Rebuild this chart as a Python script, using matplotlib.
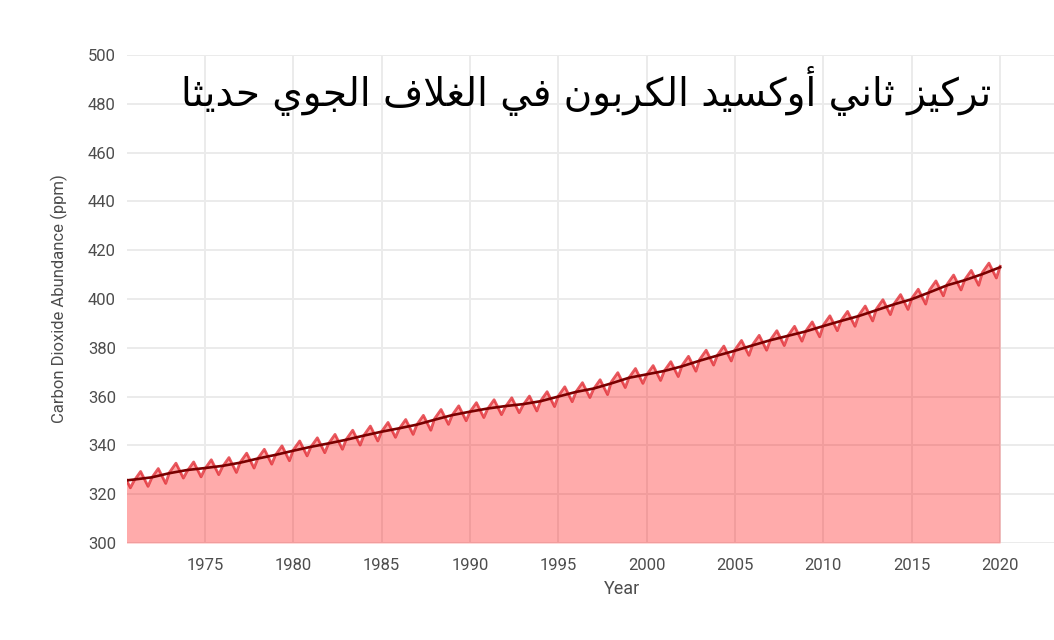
import numpy as np
import matplotlib
matplotlib.use('Agg')
import matplotlib.pyplot as plt

# Mauna Loa CO2 (ppm)
years = list(range(1970, 2020))
co2_jan = [324.9, 325.5, 326.7, 328.9, 329.4, 330.3, 331.2, 333.0, 334.6, 336.0,
           338.0, 339.3, 340.7, 342.4, 344.1, 345.6, 346.8, 348.5, 350.9, 352.4,
           353.7, 354.9, 355.7, 356.4, 358.2, 360.2, 361.9, 363.1, 366.0, 367.7,
           368.9, 370.5, 372.7, 375.2, 376.9, 379.2, 381.3, 383.2, 385.0, 386.8,
           389.3, 391.1, 393.3, 395.9, 398.0, 400.2, 403.6, 406.0, 407.9, 410.9]
co2_may = [328.7, 329.3, 330.5, 332.7, 333.2, 334.1, 335.0, 336.8, 338.4, 339.8,
           341.8, 343.1, 344.5, 346.2, 347.9, 349.4, 350.6, 352.3, 354.7, 356.2,
           357.5, 358.7, 359.5, 360.2, 362.0, 364.0, 365.7, 366.9, 369.8, 371.5,
           372.7, 374.3, 376.5, 379.0, 380.7, 383.0, 385.1, 387.0, 388.8, 390.6,
           393.1, 394.9, 397.1, 399.7, 401.8, 404.0, 407.4, 409.8, 411.7, 414.7]
co2_oct = [322.6, 323.2, 324.4, 326.6, 327.1, 328.0, 328.9, 330.7, 332.3, 333.7,
           335.7, 337.0, 338.4, 340.1, 341.8, 343.3, 344.5, 346.2, 348.6, 350.1,
           351.4, 352.6, 353.4, 354.1, 355.9, 357.9, 359.6, 360.8, 363.7, 365.4,
           366.6, 368.2, 370.4, 372.9, 374.6, 376.9, 379.0, 380.9, 382.7, 384.5,
           387.0, 388.8, 391.0, 393.6, 395.7, 397.9, 401.3, 403.7, 405.6, 408.6]
co2_jan_2020 = 413.4

# deseasonalised trend at 1 January, 1970..2020
trend_years = list(range(1970, 2021))
trend = [325.2, 326.0, 326.9, 328.6, 329.9, 330.7, 331.6, 332.9, 334.6, 336.1,
         337.8, 339.4, 340.8, 342.3, 344.0, 345.6, 347.0, 348.5, 350.5, 352.4,
         353.8, 355.1, 356.1, 356.9, 358.1, 360.0, 361.9, 363.3, 365.4, 367.7,
         369.1, 370.5, 372.4, 374.7, 376.8, 378.8, 381.0, 383.1, 384.9, 386.7,
         388.9, 391.0, 393.0, 395.4, 397.8, 399.9, 402.7, 405.6, 407.7, 410.2,
         413.0]

# Arabic title, pre-shaped with presentation forms (logical order)
title_words = [
    '\uFE97\uFEAE\uFEDB\uFEF4\uFEB0',          # تركيز
    '\uFE9B\uFE8E\uFEE7\uFEF2',                # ثاني
    '\uFE83\uFEED\uFEDB\uFEB4\uFEF4\uFEAA',    # أوكسيد
    '\uFE8D\uFEDF\uFEDC\uFEAE\uFE91\uFEEE\uFEE5',  # الكربون
    '\uFED3\uFEF2',                            # في
    '\uFE8D\uFEDF\uFED0\uFEFC\uFED1',          # الغلاف
    '\uFE8D\uFEDF\uFEA0\uFEEE\uFEF1',          # الجوي
    '\uFEA3\uFEAA\uFEF3\uFE9C\uFE8E',          # حديثا
]
title_text = ''.join(reversed(' '.join(title_words)))

# monthly-ish series: Jan, May, Oct of each year
t = []
v = []
for i, y in enumerate(years):
    t += [y + 0.0, y + 0.37, y + 0.79]
    v += [co2_jan[i], co2_may[i], co2_oct[i]]
t.append(2020.0)
v.append(co2_jan_2020)
t = np.array(t)
v = np.array(v)

plt.rcParams['font.family'] = ['Roboto', 'DejaVu Sans']

fig = plt.figure(figsize=(10.54, 6.4), dpi=100)
ax = fig.add_axes([0.1205, 0.1516, 0.8795, 0.7625])

ax.fill_between(t, 300, v, color='#ff0000', alpha=0.33, linewidth=0, zorder=2)
ax.plot(t, v, color='#e02028', lw=2.0, alpha=0.75, zorder=3,
        solid_joinstyle='round')
ax.plot(trend_years, trend, color='#7a0000', lw=1.9, zorder=4)

ax.set_xlim(1970.6, 2023.05)
ax.set_ylim(300, 500)
ax.set_xticks(range(1975, 2021, 5))
ax.set_yticks(range(300, 501, 20))
ax.grid(True, color='#ebebeb', lw=1.4, zorder=0)
ax.set_axisbelow(True)
for s in ax.spines.values():
    s.set_visible(False)
ax.tick_params(length=0, labelsize=12, labelcolor='#4d4d4d', pad=8)
ax.tick_params(axis='x', pad=11)
ax.set_xlabel('Year', fontsize=13, color='#4d4d4d', labelpad=4)
ax.xaxis.set_label_coords(0.534, -0.075)
ax.set_ylabel('Carbon Dioxide Abundance (ppm)', fontsize=12, color='#4d4d4d', labelpad=14)

fig.text(0.5565, 0.858, title_text, fontsize=28, color='black',
         family='DejaVu Sans', ha='center', va='center')

fig.savefig('out.png', dpi=100)
